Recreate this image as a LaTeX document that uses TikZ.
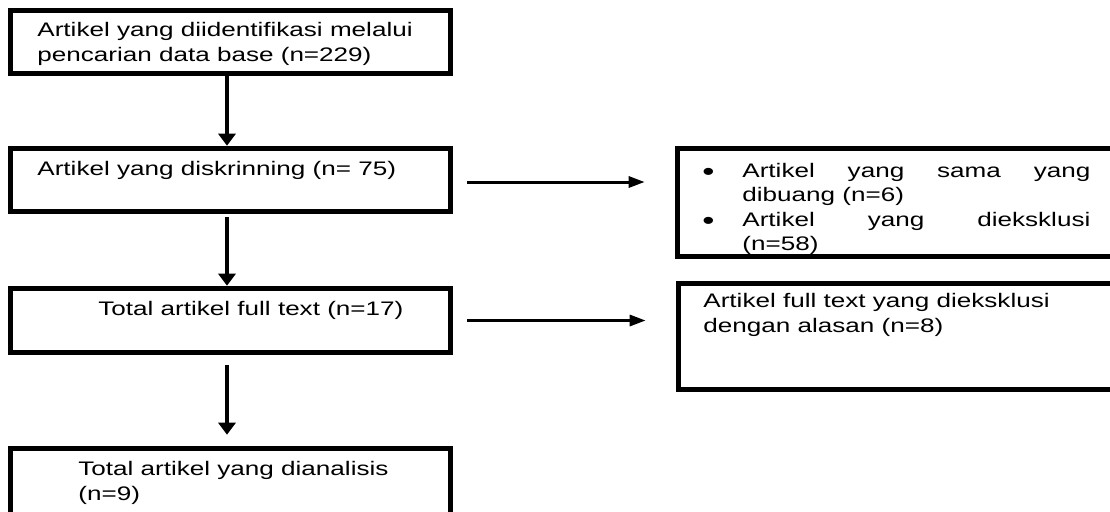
\documentclass[tikz,border=0pt]{standalone}
\usepackage{fontspec}
\setmainfont{Liberation Sans}[FakeStretch=1.33]
\usetikzlibrary{arrows.meta,positioning}

\newcommand{\bigbullet}{\llap{\raisebox{-1.5pt}{\fontsize{13pt}{0pt}\selectfont\textbullet}\hspace{14pt}}}

\begin{document}
\begin{tikzpicture}[x=0.5pt,y=-0.5pt,
    every node/.style={font=\fontsize{9.8pt}{12.25pt}\selectfont}]
  \tikzstyle{box}=[rectangle,draw=black,line width=2.8pt,inner sep=0pt,minimum width=220pt]
  \tikzstyle{txt}=[anchor=base west,inner sep=0pt,align=left]
  \tikzstyle{varr}=[-{Triangle[length=6pt,width=8.5pt]},line width=2pt]
  \tikzstyle{harr}=[-{Triangle[length=8pt,width=5.5pt]},line width=1.5pt]

  \clip (0,0) rectangle (1110,511);

  % left column
  \node[box, minimum height=31.5pt] (b1) at (230.5,42)    {};
  \node[box, minimum height=31.5pt] (b2) at (230.5,180)   {};
  \node[box, minimum height=32pt]   (b3) at (230.5,320.5) {};
  \node[box, minimum height=35pt]   (b4) at (230.5,483.5) {};

  % right column
  \node[box, minimum width=223.75pt, minimum height=54pt] (b5) at (901.25,202.5) {};
  \node[box, minimum width=223.25pt, minimum height=53pt] (b6) at (901.75,336.5) {};

  % texts (base = last line for two-line nodes)
  \node[txt] (t1) at (37,61)  {Artikel yang diidentifikasi melalui\\pencarian data base (n=229)};
  \node[txt] (t2) at (37,175) {Artikel yang diskrinning (n= 75)};
  \node[txt] (t3) at (98,315) {Total artikel full text (n=17)};
  \node[txt] (t4) at (78,500) {Total artikel yang dianalisis\\(n=9)};
  \node[txt, text width=174pt, align=justify] (t5) at (742,177)
    {\bigbullet Artikel yang sama yang\linebreak dibuang (n=6)\\
     \bigbullet Artikel yang dieksklusi\linebreak (n=58)};
  \node[txt] (t6) at (703,332) {Artikel full text yang dieksklusi\\dengan alasan (n=8)};

  \draw[varr] ([xshift=-1.75pt]b1.south) -- ([xshift=-1.75pt]b2.north);
  \draw[varr, shorten <=1.5pt] ([xshift=-1.75pt]b2.south) -- ([xshift=-1.75pt]b3.north);
  \draw[varr, shorten <=5pt, shorten >=5.5pt] ([xshift=-1.75pt]b3.south) -- ([xshift=-1.75pt]b4.north);

  \draw[harr, shorten <=7pt, shorten >=15pt] ([yshift=-1pt]b2.east) -- ([yshift=-1pt]b2.east -| b5.west);
  \draw[harr, shorten <=7pt, shorten >=15pt] (b3.east) -- (b3.east -| b6.west);
\end{tikzpicture}
\end{document}
